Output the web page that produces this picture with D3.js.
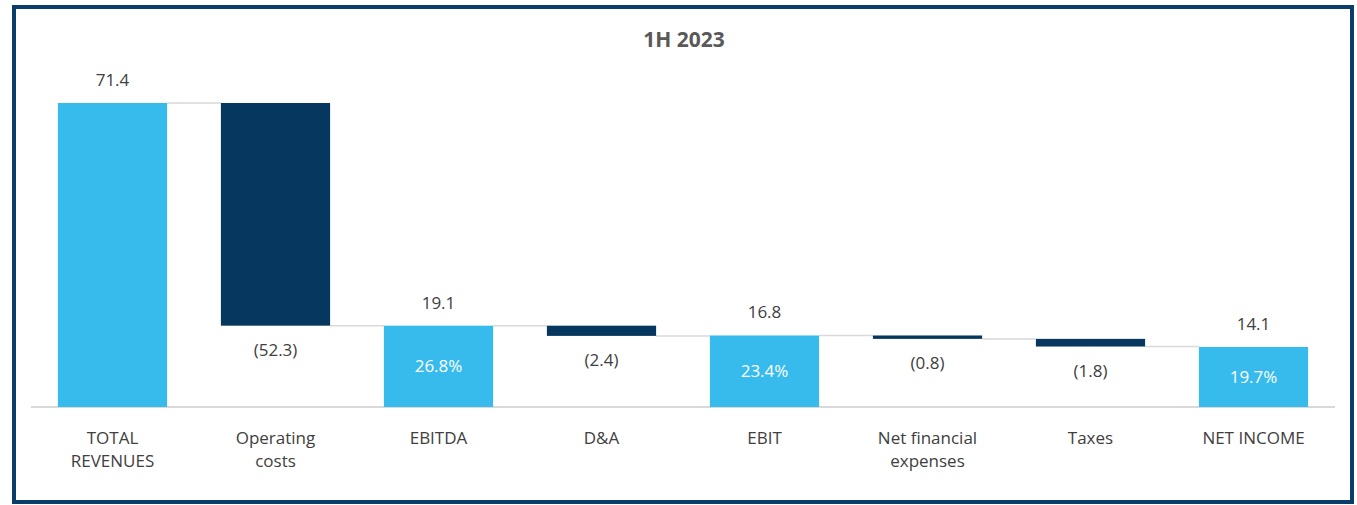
<!DOCTYPE html>
<html>
<head>
<meta charset="utf-8">
<script src="https://cdn.jsdelivr.net/npm/d3@7"></script>
<style>
  body { margin: 0; background: #fff; }
  svg text { font-family: "Open Sans", "Noto Sans", sans-serif; }
</style>
</head>
<body>
<div id="chart"></div>
<script>
// Chart data
var categories = ['TOTAL REVENUES', 'Operating costs', 'EBITDA', 'D&A', 'EBIT', 'Net financial expenses', 'Taxes', 'NET INCOME'];
var labelLines = [['TOTAL', 'REVENUES'], ['Operating', 'costs'], ['EBITDA'], ['D&A'], ['EBIT'], ['Net financial', 'expenses'], ['Taxes'], ['NET INCOME']];
var values = [71.4, -52.3, 19.1, -2.4, 16.8, -0.8, -1.8, 14.1];
var isTotal = [true, false, true, false, true, false, false, true];
var margins = [null, null, '26.8%', null, '23.4%', null, null, '19.7%'];
var title = '1H 2023';

var width = 1357, height = 505;
var light = '#37bbed', dark = '#06375f';

var svg = d3.select('#chart').append('svg')
    .attr('width', width)
    .attr('height', height);

// Frame
svg.append('rect')
    .attr('x', 14).attr('y', 7)
    .attr('width', 1338).attr('height', 495)
    .attr('fill', '#fff')
    .attr('stroke', '#0b3d6b')
    .attr('stroke-width', 4);

svg.append('text')
    .attr('x', 684).attr('y', 47)
    .attr('text-anchor', 'middle')
    .attr('font-size', 21)
    .attr('font-weight', 'bold')
    .attr('fill', '#595959')
    .text(title);

var x = d3.scaleBand()
    .domain(categories)
    .range([31, 1335])
    .paddingInner(0.33)
    .paddingOuter(0.165);

var y = d3.scaleLinear()
    .domain([0, 71.4])
    .range([407, 103]);

// Build waterfall steps
var running = 0;
var steps = categories.map(function(c, i) {
    var start, end;
    if (isTotal[i]) {
        start = 0; end = values[i]; running = values[i];
    } else {
        start = running; end = running + values[i]; running = end;
    }
    return { name: c, i: i, start: start, end: end, value: values[i], total: isTotal[i] };
});

// Connector lines
steps.forEach(function(d, i) {
    if (i === steps.length - 1) return;
    var next = steps[i + 1];
    svg.append('line')
        .attr('x1', x(d.name) + x.bandwidth())
        .attr('x2', x(next.name))
        .attr('y1', y(d.end))
        .attr('y2', y(d.end))
        .attr('stroke', '#d9d9d9')
        .attr('stroke-width', 1.5);
});

// Axis line
svg.append('line')
    .attr('x1', 31).attr('x2', 1335)
    .attr('y1', y(0)).attr('y2', y(0))
    .attr('stroke', '#d9d9d9')
    .attr('stroke-width', 2);

// Bars
svg.selectAll('rect.bar')
    .data(steps)
    .enter().append('rect')
    .attr('class', 'bar')
    .attr('x', function(d) { return x(d.name); })
    .attr('width', x.bandwidth())
    .attr('y', function(d) { return y(Math.max(d.start, d.end)); })
    .attr('height', function(d) { return Math.abs(y(d.start) - y(d.end)); })
    .attr('fill', function(d) { return d.total ? light : dark; });

// Value labels
svg.selectAll('text.val')
    .data(steps)
    .enter().append('text')
    .attr('class', 'val')
    .attr('x', function(d) { return x(d.name) + x.bandwidth() / 2; })
    .attr('y', function(d) {
        return d.total ? y(d.end) - 17 : y(d.end) + 30;
    })
    .attr('text-anchor', 'middle')
    .attr('font-size', 17)
    .attr('fill', '#404040')
    .text(function(d) {
        return d.value < 0 ? '(' + Math.abs(d.value).toFixed(1) + ')' : d.value.toFixed(1);
    });

// Margin percentages inside total bars
svg.selectAll('text.pct')
    .data(steps.filter(function(d) { return margins[d.i]; }))
    .enter().append('text')
    .attr('class', 'pct')
    .attr('x', function(d) { return x(d.name) + x.bandwidth() / 2; })
    .attr('y', function(d) { return (y(d.end) + y(0)) / 2 + 6; })
    .attr('text-anchor', 'middle')
    .attr('font-size', 17)
    .attr('fill', '#fff')
    .text(function(d) { return margins[d.i]; });

// Category labels
var cat = svg.selectAll('text.cat')
    .data(categories)
    .enter().append('text')
    .attr('class', 'cat')
    .attr('x', function(d) { return x(d) + x.bandwidth() / 2; })
    .attr('y', 444)
    .attr('text-anchor', 'middle')
    .attr('font-size', 17)
    .attr('fill', '#404040');

cat.each(function(d, i) {
    var t = d3.select(this);
    labelLines[i].forEach(function(line, k) {
        t.append('tspan')
            .attr('x', x(d) + x.bandwidth() / 2)
            .attr('dy', k === 0 ? 0 : 23)
            .text(line);
    });
});
</script>
</body>
</html>
